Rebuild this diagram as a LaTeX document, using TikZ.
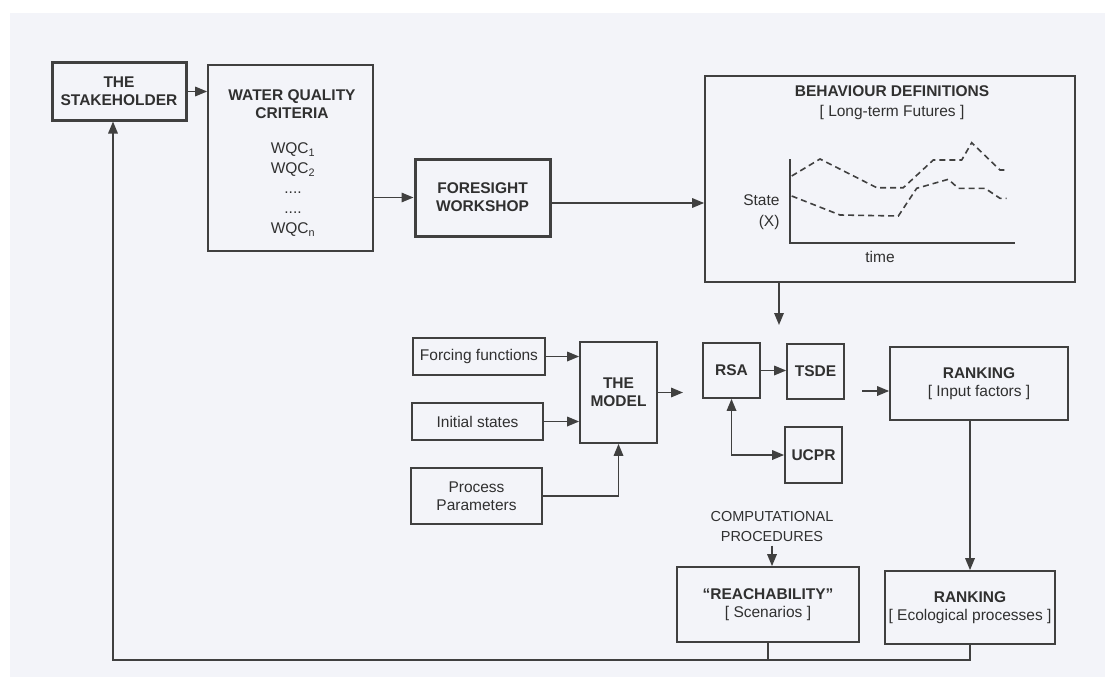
\documentclass[tikz,border=0pt]{standalone}
\usepackage{fontspec}
\setmainfont{Liberation Sans}
\usetikzlibrary{arrows.meta}

\definecolor{paper}{HTML}{F3F4F9}
\definecolor{ink}{HTML}{404040}
\definecolor{txt}{HTML}{303030}

\begin{document}
\begin{tikzpicture}[x=1pt, y=-1pt,
    every node/.style={text=txt, font=\fontsize{15.5}{18}\selectfont},
    box/.style={draw=ink, line width=1.7pt, inner sep=0pt},
    thickbox/.style={box, line width=3pt},
    hdr/.style={font=\fontsize{15.5}{18}\selectfont\bfseries, align=center},
    tip/.style={-{Triangle[length=12pt,width=9.5pt]}},
    arr/.style={draw=ink, line width=1.7pt, tip},
    curve/.style={ink, line width=1.6pt, dash pattern=on 6pt off 4pt}]
  \useasboundingbox (0,0) rectangle (1105,677);
  % Scanned page
  \fill[paper] (10,13) rectangle (1105,677);

  % Top row
  \node[thickbox, hdr, minimum width=134pt, minimum height=57pt] (stake) at (119,91.5) {THE\\STAKEHOLDER};
  \node[box, minimum width=165pt, minimum height=186pt] (wqc) at (290.5,158) {};
  \node[hdr] (wqctitle) at (292,104) {WATER QUALITY\\CRITERIA};
  \node[align=center, font=\fontsize{15.5}{20}\selectfont] (wqclist) at (293,190)
    {WQC\textsubscript{1}\\WQC\textsubscript{2}\\....\\....\\WQC\textsubscript{n}};
  \node[thickbox, hdr, minimum width=135pt, minimum height=77pt] (fore) at (482.5,197.5) {FORESIGHT\\WORKSHOP};
  \node[box, minimum width=370pt, minimum height=206pt] (behav) at (890,179) {};
  \node[hdr, font=\fontsize{15.5}{20}\selectfont\bfseries] (behavtitle) at (892,103)
    {BEHAVIOUR DEFINITIONS\\\mdseries [ Long-term Futures ]};

  % State against time
  \coordinate (origin) at (790,243);
  \draw[ink, line width=1.6pt] (790,159) -- (origin) -- (1015,243);
  \node[align=right, anchor=east, font=\fontsize{15.5}{21}\selectfont] (statelbl) at (783,212) {State\\(X)};
  \node (timelbl) at (880,257) {time};
  \draw[curve] (791.7,176) -- (820,159) -- (876.7,187.7) -- (903.3,187.7) -- (933.3,160)
    -- (961.7,160) -- (971.7,142.7) -- (1000,170) -- (1008.3,170);
  \draw[curve] (791.7,196) -- (840,215) -- (898.3,216) -- (916.7,188.3) -- (948.3,179.3)
    -- (958.3,188.3) -- (985,188.3) -- (1000,198.3) -- (1006.7,198.3);

  % Model inputs
  \node[box, minimum width=132pt, minimum height=37pt] (forcing) at (479,356.5) {Forcing functions};
  \node[box, minimum width=131pt, minimum height=37pt] (initial) at (477.5,421.5) {Initial states};
  \node[box, align=center, minimum width=131pt, minimum height=56pt] (process) at (476.5,496) {Process\\Parameters};
  \node[box, hdr, minimum width=77pt, minimum height=101pt] (model) at (618.5,392.5) {THE\\MODEL};

  % Computational procedures
  \node[box, hdr, minimum width=57pt, minimum height=55pt] (rsa) at (731.5,370.5) {RSA};
  \node[box, hdr, minimum width=57pt, minimum height=55pt] (tsde) at (815.5,371.5) {TSDE};
  \node[box, hdr, minimum width=57pt, minimum height=56pt] (ucpr) at (813.5,455) {UCPR};
  \node[align=center, font=\fontsize{14.5}{20}\selectfont] (comp) at (772,527) {COMPUTATIONAL\\PROCEDURES};
  \node[box, hdr, minimum width=178pt, minimum height=73pt] (rankin) at (979,383.5)
    {RANKING\\\mdseries [ Input factors ]};
  \node[box, hdr, minimum width=182pt, minimum height=75pt] (reach) at (768,604.5)
    {“REACHABILITY”\\\mdseries [ Scenarios ]};
  \node[box, hdr, minimum width=170pt, minimum height=73pt] (rankeco) at (970,607.5)
    {RANKING\\\mdseries [ Ecological processes ]};

  % Connectors
  \coordinate (behavout) at (779,325);
  \coordinate (modelout) at (683,392.5);
  \coordinate (tsdeout) at (862,391);
  \coordinate (fbline) at (0,660);
  \draw[arr] (stake.east) -- (stake.east -| wqc.west);
  \draw[arr] (wqc.east |- fore.west) -- (fore.west);
  \draw[arr] (fore.east |- 0,203) -- (behav.west |- 0,203);
  \draw[arr] (behav.south -| behavout) -- (behavout);
  \draw[arr] (forcing.east) -- (forcing.east -| model.west);
  \draw[arr] (initial.east) -- (initial.east -| model.west);
  \draw[arr] (process.east) -| (model.south);
  \draw[arr] (model.east) -- (modelout);
  \draw[arr] (rsa.east) -- (rsa.east -| tsde.west);
  \draw[arr, {Triangle[length=12pt,width=9.5pt]}-{Triangle[length=12pt,width=9.5pt]}] (rsa.south) |- (ucpr.west);
  \draw[arr] (tsdeout) -- (tsdeout -| rankin.west);
  \draw[arr] (rankeco.north |- rankin.south) -- (rankeco.north);
  \draw[arr] (comp.south) -- (comp.south |- reach.north);
  \draw[ink, line width=1.7pt] (reach.south) -- (reach.south |- fbline);
  \draw[arr] (rankeco.south) |- (fbline -| 113,0) -- (stake.south -| 113,0);
\end{tikzpicture}
\end{document}
